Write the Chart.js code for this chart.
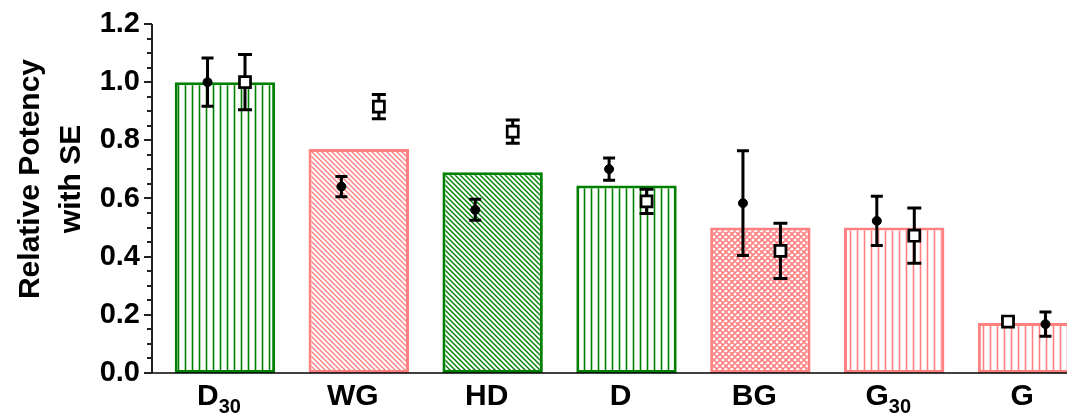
<!DOCTYPE html>
<html>
<head>
<meta charset="utf-8">
<script src="https://cdn.jsdelivr.net/npm/chart.js@4.4.1/dist/chart.umd.min.js"></script>
<style>
  html, body { margin: 0; padding: 0; background: #fff; overflow: hidden; }
</style>
</head>
<body>
<canvas id="chart" width="1100" height="415"></canvas>
<script>
// categories (subscripts as unicode)
const categories = ["D₃₀", "WG", "HD", "D", "BG", "G₃₀", "G"];
// bar heights
const potency = [1.0, 0.77, 0.69, 0.645, 0.5, 0.5, 0.172];
// filled circles + SE
const circleVal = [1.0, 0.641, 0.561, 0.701, 0.584, 0.523, 0.168];
const circleSE = [0.083, 0.035, 0.036, 0.038, 0.18, 0.085, 0.042];
// open squares + SE
const squareVal = [1.0, 0.916, 0.83, 0.59, 0.42, 0.472, 0.177];
const squareSE = [0.095, 0.042, 0.04, 0.042, 0.095, 0.095, 0.01];
// y axis
const yTicks = [0, 0.2, 0.4, 0.6, 0.8, 1.0, 1.2];
const yTitle = ["Relative Potency", "with SE"];

// styles
const font = "'Liberation Sans', Arial, sans-serif";
const green = "#008000";
const pink = "#ff8080";
const barColor = [green, pink, green, green, pink, pink, pink];
const barFill = ["vert", "diag", "diag", "vert", "cross", "vert", "vert"];
const side = [1, 1, 1, 1, 1, 1, -1]; // G has the square on the left

var canvas = document.getElementById("chart");
var ctx = canvas.getContext("2d");

//make a hatch pattern
const hatch = (kind, color) => {
  var s = kind == "vert" ? 7 : kind == "diag" ? 5 : 6;
  var t = document.createElement("canvas");
  t.width = s;
  t.height = s;
  var g = t.getContext("2d");
  g.fillStyle = "#fff";
  g.fillRect(0, 0, s, s);
  g.strokeStyle = color;
  g.lineWidth = kind == "cross" ? 1.6 : kind == "vert" ? 1.6 : 1.4;
  g.beginPath();
  if (kind == "vert") {
    g.moveTo(s / 2, 0);
    g.lineTo(s / 2, s);
  } else {
    // "\" lines
    g.moveTo(-1, -1); g.lineTo(s + 1, s + 1);
    g.moveTo(-1, s - 1); g.lineTo(1, s + 1);
    g.moveTo(s - 1, -1); g.lineTo(s + 1, 1);
    if (kind == "cross") {
      // "/" lines
      g.moveTo(-1, s + 1); g.lineTo(s + 1, -1);
      g.moveTo(-1, 1); g.lineTo(1, -1);
      g.moveTo(s - 1, s + 1); g.lineTo(s + 1, s - 1);
    }
  }
  g.stroke();
  return ctx.createPattern(t, "repeat");
};

// error bars, drawn right after the bars so markers sit on top
const errorBars = {
  id: "errorBars",
  afterDatasetDraw(chart, args) {
    if (args.index !== 0) return;
    var c = chart.ctx;
    var y = chart.scales.y;
    [[1, squareVal, squareSE, 7], [2, circleVal, circleSE, 6]].forEach(([di, vals, se, cap]) => {
      var pts = chart.getDatasetMeta(di).data;
      vals.forEach((v, i) => {
        var x = pts[i].x;
        var top = y.getPixelForValue(v + se[i]);
        var bot = y.getPixelForValue(v - se[i]);
        c.save();
        c.strokeStyle = "#000";
        c.lineWidth = 3;
        c.beginPath();
        c.moveTo(x, top); c.lineTo(x, bot);
        c.moveTo(x - cap, top); c.lineTo(x + cap, top);
        c.moveTo(x - cap, bot); c.lineTo(x + cap, bot);
        c.stroke();
        c.restore();
      });
    });
  },
};

// axis lines, minor ticks, x labels with subscripts, y title
const axes = {
  id: "axes",
  afterDraw(chart) {
    var c = chart.ctx;
    var a = chart.chartArea;
    var y = chart.scales.y;
    var x = chart.scales.x;
    var ax = a.left - 6;
    c.save();
    c.strokeStyle = "#222";
    c.lineWidth = 2;
    c.beginPath();
    c.moveTo(ax, y.getPixelForValue(1.2));
    c.lineTo(ax, y.getPixelForValue(0));
    for (var k = 0; k <= 24; k++) {
      var py = Math.round(y.getPixelForValue(k * 0.05));
      c.moveTo(k % 4 == 0 ? ax - 8 : ax - 5, py);
      c.lineTo(ax, py);
    }
    c.stroke();
    c.lineWidth = 1.5;
    c.strokeStyle = "#000";
    c.beginPath();
    c.moveTo(ax, a.bottom);
    c.lineTo(chart.width, a.bottom);
    c.stroke();

    // x labels
    c.fillStyle = "#000";
    c.textBaseline = "alphabetic";
    c.textAlign = "left";
    categories.forEach((lab, i) => {
      var m = lab.match(/^([^₀-₉]*)([₀-₉]*)$/);
      var base = m[1];
      var sub = m[2].replace(/[₀-₉]/g, (d) => String(d.charCodeAt(0) - 0x2080));
      c.font = "bold 30px " + font;
      var wb = c.measureText(base).width;
      c.font = "bold 20px " + font;
      var ws = sub ? c.measureText(sub).width : 0;
      var x0 = x.getPixelForValue(i) - 6 - (wb + ws) / 2;
      c.font = "bold 30px " + font;
      c.fillText(base, x0, 405);
      if (sub) {
        c.font = "bold 20px " + font;
        c.fillText(sub, x0 + wb, 413);
      }
    });

    // y title
    c.font = "bold 30px " + font;
    c.textAlign = "center";
    [38.5, 79.5].forEach((bx, i) => {
      c.save();
      c.translate(bx, 179);
      c.rotate(-Math.PI / 2);
      c.fillText(yTitle[i], 0, 0);
      c.restore();
    });
    c.restore();
  },
};

var chart = new Chart(ctx, {
  type: "bar",
  data: {
    labels: categories,
    datasets: [
      {
        type: "bar",
        data: potency,
        backgroundColor: barFill.map((f, i) => hatch(f, barColor[i])),
        borderColor: barColor,
        borderWidth: 3,
        borderSkipped: false,
        barPercentage: 0.75,
        categoryPercentage: 1,
        grouped: false,
        order: 3,
      },
      {
        type: "scatter",
        xAxisID: "xp",
        data: squareVal.map((v, i) => ({ x: i + 0.15 * side[i], y: v })),
        pointStyle: "rect",
        pointRadius: 7.8,
        pointBackgroundColor: "#fff",
        pointBorderColor: "#000",
        pointBorderWidth: 2.7,
        order: 2,
      },
      {
        type: "scatter",
        xAxisID: "xp",
        data: circleVal.map((v, i) => ({ x: i - 0.13 * side[i], y: v })),
        pointStyle: "circle",
        pointRadius: 4.5,
        pointBackgroundColor: "#000",
        pointBorderColor: "#000",
        pointBorderWidth: 1,
        order: 1,
      },
    ],
  },
  options: {
    responsive: false,
    animation: false,
    layout: { autoPadding: false, padding: { left: 0, top: 24, right: 5, bottom: 0 } },
    plugins: {
      legend: { display: false },
      tooltip: { enabled: false },
    },
    scales: {
      x: {
        type: "category",
        grid: { display: false },
        border: { display: false },
        ticks: { display: false },
        afterFit: (s) => { s.height = 42; },
      },
      xp: {
        type: "linear",
        display: false,
        offset: false,
        min: -0.5,
        max: 6.5,
      },
      y: {
        min: 0,
        max: 1.2,
        grid: { display: false, drawTicks: false },
        border: { display: false },
        afterBuildTicks: (s) => { s.ticks = yTicks.map((v) => ({ value: v })); },
        afterFit: (s) => {
          s.width = 158;
          s.paddingTop = 0;
          s.paddingBottom = 0;
        },
        ticks: {
          padding: 18,
          color: "#000",
          font: { family: font, size: 29, weight: "bold" },
          callback: (v) => Number(v).toFixed(1),
        },
      },
    },
  },
  plugins: [errorBars, axes],
});
</script>
</body>
</html>
